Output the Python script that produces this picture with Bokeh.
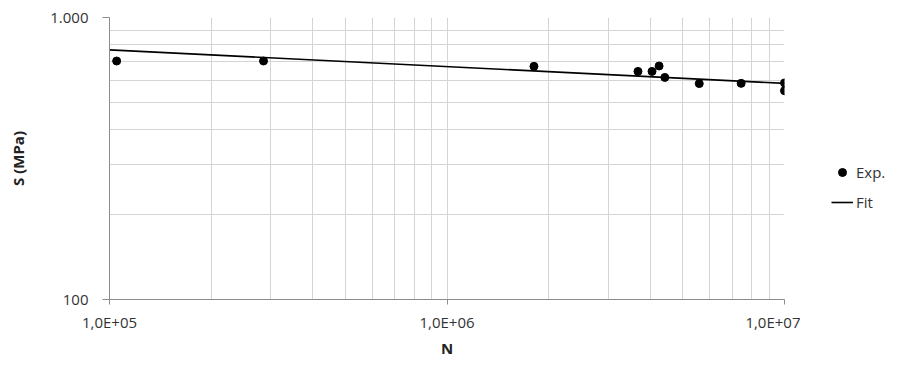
from bokeh.plotting import figure
from bokeh.models import FixedTicker, Legend, LegendItem
from bokeh.layouts import row
from bokeh.embed import file_html
from bokeh.resources import INLINE

# Experimental data (cycles N, stress S in MPa)
exp_N = [1.05e5, 2.86e5, 1.81e6, 3.68e6, 4.05e6, 4.25e6, 4.42e6, 5.59e6, 7.44e6, 1.0e7, 1.0e7]
exp_S = [701, 701, 671, 644, 644, 673, 613, 583, 584, 586, 550]

# Fit line endpoints
fit_N = [1e5, 1e7]
fit_S = [768, 584]

x_major = [1e5, 1e6, 1e7]
x_labels = ["1,0E+05", "1,0E+06", "1,0E+07"]
y_major = [100, 1000]
y_labels = ["100", "1.000"]

x_minor = [m * d for d in (1e5, 1e6) for m in range(2, 10)]
y_minor = [m * 100 for m in range(2, 10)]

FONT = "Open Sans"

p = figure(width=800, height=374, x_axis_type="log", y_axis_type="log",
           x_range=(1e5, 1e7), y_range=(100, 1000),
           output_backend="svg", toolbar_location=None,
           min_border_left=109, min_border_right=16,
           min_border_top=17, min_border_bottom=75)
p.outline_line_color = None
p.background_fill_color = "white"
p.border_fill_color = "white"

p.line(fit_N, fit_S, line_color="black", line_width=1.6)
p.scatter(exp_N, exp_S, size=8, fill_color="black", line_color="black")

p.xaxis.ticker = FixedTicker(ticks=x_major, minor_ticks=x_minor)
p.yaxis.ticker = FixedTicker(ticks=y_major, minor_ticks=y_minor)
p.xaxis.major_label_overrides = {v: l for v, l in zip(x_major, x_labels)}
p.yaxis.major_label_overrides = {v: l for v, l in zip(y_major, y_labels)}

for ax in (p.xaxis, p.yaxis):
    ax.axis_line_color = "#8c8c8c"
    ax.major_tick_line_color = "#8c8c8c"
    ax.minor_tick_line_color = None
    ax.major_tick_in = 0
    ax.major_label_text_font = FONT
    ax.major_label_text_font_size = "15px"
    ax.major_label_text_color = "#333333"
    ax.axis_label_text_font = FONT
    ax.axis_label_text_font_size = "15px"
    ax.axis_label_text_font_style = "bold"
    ax.axis_label_text_color = "#222222"

p.xaxis.major_tick_out = 5
p.yaxis.major_tick_out = 7
p.xaxis.major_label_standoff = 7
p.yaxis.major_label_standoff = 14
p.xaxis.axis_label = "N"
p.yaxis.axis_label = "S (MPa)"
p.xaxis.axis_label_standoff = 3
p.yaxis.axis_label_standoff = 19

for g in (p.xgrid, p.ygrid):
    g.grid_line_color = "#d4d4d4"
    g.minor_grid_line_color = "#d4d4d4"
    g.grid_line_width = 1

# Separate small figure holding the legend (outside the plot area)
lg = figure(width=100, height=374, x_range=(0, 1), y_range=(0, 1),
            output_backend="svg", toolbar_location=None,
            min_border_left=0, min_border_right=0, min_border_top=0, min_border_bottom=0)
lg.axis.visible = False
lg.grid.visible = False
lg.outline_line_color = None
lg.border_fill_color = "white"
r_exp = lg.scatter([-5], [-5], size=8, fill_color="black", line_color="black")
r_fit = lg.line([-5, -4], [-5, -4], line_color="black", line_width=1.6)

legend = Legend(items=[LegendItem(label="Exp.", renderers=[r_exp]),
                       LegendItem(label="Fit", renderers=[r_fit])],
                location=(31, 87), orientation="vertical",
                border_line_color=None, background_fill_alpha=0,
                padding=0, margin=0, spacing=10, glyph_width=22, glyph_height=20,
                label_standoff=3, label_text_font=FONT, label_text_font_size="15px",
                label_text_color="#333333")
lg.add_layout(legend, "center")

layout = row(p, lg, spacing=0)
open("out.html", "w").write(file_html(layout, INLINE))
